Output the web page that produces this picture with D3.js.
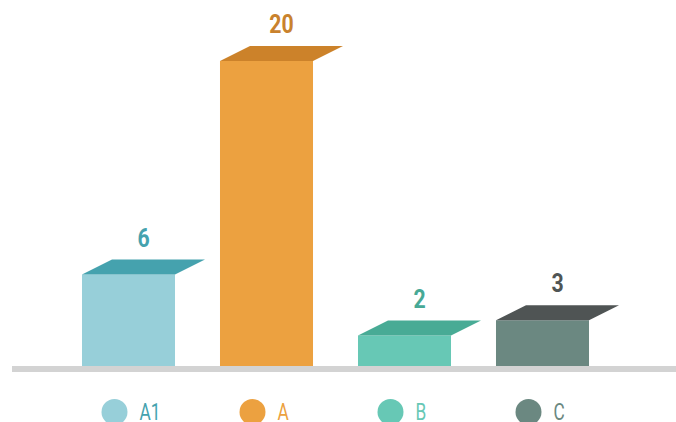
<!DOCTYPE html>
<html><head><meta charset="utf-8">
<script src="https://cdn.jsdelivr.net/npm/d3@7"></script>
<style>body{margin:0;background:#fff}svg{display:block}</style>
</head><body><svg id="c" width="676" height="422"></svg>
<script>
const categories = ["A1", "A", "B", "C"];
const values = [6, 20, 2, 3];
const frontColors = ["#97cfd9", "#eca140", "#67c8b5", "#6b8881"];
const topColors = ["#45a2ae", "#cc822a", "#48ab95", "#4f5454"];
const labelColors = ["#45a2ae", "#c9822d", "#47a996", "#505555"];
const legendColors = ["#45a2ae", "#eca140", "#67c8b5", "#6b8881"];

const svg = d3.select("#c");
const W = 676, H = 422;
const base = 366;
const x = d3.scaleBand().domain(categories).range([59.5, 611.5]).paddingInner(0.326).paddingOuter(0.163);
const y = d3.scaleLinear().domain([0, 20]).range([base, 61]);
const dx = 30, dy = 15;
const font = "'Roboto', sans-serif";

svg.append("rect").attr("x", 12).attr("y", base).attr("width", W - 12).attr("height", 6).attr("fill", "#d3d3d3");

const g = svg.append("g");
const bars = g.selectAll("g.bar").data(categories).join("g");
bars.append("rect")
  .attr("x", d => x(d)).attr("y", (d, i) => y(values[i]))
  .attr("width", x.bandwidth()).attr("height", (d, i) => base - y(values[i]))
  .attr("fill", (d, i) => frontColors[i]);
bars.append("path")
  .attr("d", (d, i) => {
    const x0 = x(d), x1 = x0 + x.bandwidth(), yt = y(values[i]);
    return `M${x0},${yt}L${x0 + dx},${yt - dy}L${x1 + dx},${yt - dy}L${x1},${yt}Z`;
  })
  .attr("fill", (d, i) => topColors[i]);
bars.append("g")
  .attr("transform", (d, i) => `translate(${x(d) + x.bandwidth() / 2 + dx / 2},${y(values[i]) - dy - 13}) scale(0.85,1)`)
  .append("text")
  .attr("text-anchor", "middle")
  .attr("font-family", font).attr("font-weight", "bold").attr("font-size", 25)
  .attr("fill", (d, i) => labelColors[i])
  .text((d, i) => values[i]);

const leg = svg.append("g").selectAll("g").data(categories).join("g")
  .attr("transform", d => `translate(${x(d) + x.bandwidth() / 2 - 14},412)`);
leg.append("circle").attr("r", 13).attr("fill", (d, i) => frontColors[i]);
leg.append("g").attr("transform", "translate(25,7.5) scale(0.72,1)")
  .append("text")
  .attr("font-family", font).attr("font-size", 24)
  .attr("fill", (d, i) => legendColors[i]).text(d => d);
</script></body></html>
